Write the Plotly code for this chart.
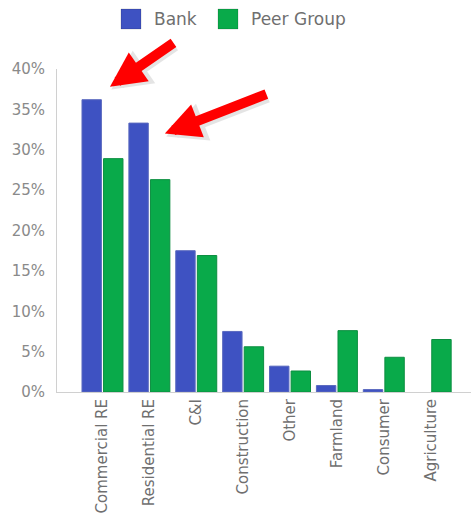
import plotly.graph_objects as go

# Loan portfolio mix: bank vs. peer group (share of total loans, %)
categories = ["Commercial RE", "Residential RE", "C&I", "Construction",
              "Other", "Farmland", "Consumer", "Agriculture"]
bank = [36.2, 33.3, 17.5, 7.5, 3.2, 0.8, 0.3, 0.0]
peer_group = [28.9, 26.3, 16.9, 5.6, 2.6, 7.6, 4.3, 6.5]
y_ticks = [0, 5, 10, 15, 20, 25, 30, 35, 40]
y_tick_labels = [f"{v}%" for v in y_ticks]

BANK_COLOR = "#3e52c2"
PEER_COLOR = "#09aa4a"
TEXT_COLOR = "#6f6f6f"
FONT = "DejaVu Sans"

W, H = 474, 519
M_L, M_R, M_T, M_B = 57, 3, 69, 127
plot_w = W - M_L - M_R
plot_h = H - M_T - M_B


def px_x(p):
    """Pixel x (page) -> paper fraction."""
    return (p - M_L) / plot_w


def px_y(p):
    """Pixel y (page) -> paper fraction."""
    return (H - M_B - p) / plot_h


def outline_widths(values):
    # no outline on empty bars so a zero value leaves no visible sliver
    return [1 if v > 0 else 0 for v in values]


fig = go.Figure()
fig.add_trace(go.Bar(
    name="Bank", x=categories, y=bank,
    marker=dict(color=BANK_COLOR,
                line=dict(color="#5a69bf", width=outline_widths(bank))),
    showlegend=False,
))
fig.add_trace(go.Bar(
    name="Peer Group", x=categories, y=peer_group,
    marker=dict(color=PEER_COLOR,
                line=dict(color="#0c8e40", width=outline_widths(peer_group))),
    showlegend=False,
))

# Legend drawn at the top: large square swatches with grey labels
legend_items = [("Bank", BANK_COLOR, 121), ("Peer Group", PEER_COLOR, 218)]
shapes = []
annotations = []
for label, color, left in legend_items:
    shapes.append(dict(
        type="rect", xref="paper", yref="paper",
        x0=px_x(left), x1=px_x(left + 20), y0=px_y(29), y1=px_y(9),
        fillcolor=color, line=dict(color="rgba(0,0,0,0.15)", width=1),
    ))
    annotations.append(dict(
        xref="paper", yref="paper", x=px_x(left + 31), y=px_y(19),
        xanchor="left", yanchor="middle", showarrow=False, text=label,
        font=dict(family=FONT, size=17, color=TEXT_COLOR),
    ))

# Red call-out arrows pointing at the two largest bank concentrations
callouts = [
    dict(x=0.16, y=37.8, ax=65, ay=-45),
    dict(x=1.33, y=32.0, ax=103, ay=-40),
]
for c in callouts:
    # soft shadow under each arrow
    annotations.append(dict(
        x=c["x"] + 0.03, y=c["y"] - 0.35, xref="x", yref="y",
        ax=c["ax"], ay=c["ay"], axref="pixel", ayref="pixel",
        showarrow=True, text="", arrowhead=2, arrowsize=0.72,
        arrowwidth=11, arrowcolor="rgba(0,0,0,0.10)",
    ))
    annotations.append(dict(
        x=c["x"], y=c["y"], xref="x", yref="y",
        ax=c["ax"], ay=c["ay"], axref="pixel", ayref="pixel",
        showarrow=True, text="", arrowhead=2, arrowsize=0.7,
        arrowwidth=10, arrowcolor="#ff0000",
    ))

fig.update_layout(
    width=W, height=H,
    margin=dict(l=M_L, r=M_R, t=M_T, b=M_B),
    paper_bgcolor="white", plot_bgcolor="white",
    barmode="group", bargap=0.08, bargroupgap=0.1,
    font=dict(family=FONT, size=15, color=TEXT_COLOR),
    shapes=shapes, annotations=annotations,
    xaxis=dict(
        range=[-0.97, 7.86], tickangle=-90, showgrid=False,
        showline=True, linecolor="#d0d0d0", linewidth=1,
        ticks="", tickfont=dict(family=FONT, size=15, color=TEXT_COLOR),
        fixedrange=True,
    ),
    yaxis=dict(
        range=[0, 40], tickvals=y_ticks, ticktext=y_tick_labels,
        showgrid=False, zeroline=False, showline=True,
        linecolor="#d0d0d0", linewidth=1, ticks="", ticklabelstandoff=8,
        tickfont=dict(family=FONT, size=15, color="#8a8a8a"),
        fixedrange=True,
    ),
)

fig.write_html("out.html")
